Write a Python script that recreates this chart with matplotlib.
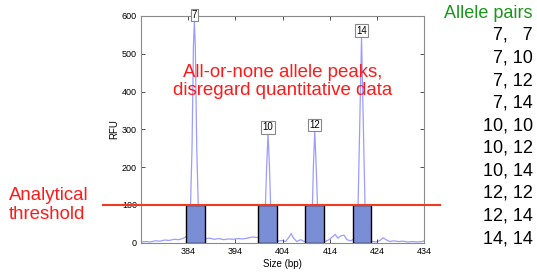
import matplotlib
matplotlib.use("Agg")
import matplotlib.pyplot as plt

plt.rcParams['font.family'] = ['Liberation Sans', 'DejaVu Sans']

# electropherogram trace (size in bp, RFU)
trace_bp = [374, 375, 376, 377, 378, 379, 380, 381, 382, 383, 383.8, 384.4, 384.8, 385.1, 385.3,
            385.5, 385.8, 386.2, 386.8, 387.5, 388.5, 389.5, 390.5, 391.5, 392.5, 393.5, 394.5,
            395.5, 396.5, 397.5, 398.5, 399.5, 400.2, 400.6, 400.9, 401.2, 401.6, 402.2, 403,
            403.8, 404.6, 405.3, 405.8, 406.3, 407, 407.8, 408.6, 409.6, 410.2, 410.5, 410.8,
            411.1, 411.5, 412.2, 413, 413.8, 414.5, 415.1, 415.7, 416.3, 417, 417.6, 418.4,
            419.2, 419.9, 420.3, 420.7, 421.1, 421.5, 422.2, 423, 423.8, 424.6, 425.3, 426,
            426.7, 427.5, 428.5, 429.5, 430.5, 431.5, 432.5, 433.5, 434]
trace_rfu = [2, 3, 2, 5, 4, 7, 6, 9, 8, 12, 18, 60, 250, 520, 585,
             520, 250, 60, 15, 10, 12, 9, 11, 8, 10, 9, 11,
             10, 12, 15, 14, 13, 40, 200, 288, 200, 40, 10, 4,
             6, 3, 14, 24, 12, 3, 8, 3, 10, 50, 200, 295,
             200, 50, 5, 3, 8, 15, 22, 12, 18, 20, 8, 5,
             10, 60, 300, 544, 300, 60, 10, 3, 2, 6, 13, 7,
             3, 5, 3, 4, 2, 3, 2, 3, 5]

peak_labels = ['7', '10', '12', '14']
peak_bp = [385.3, 400.9, 410.8, 420.7]
peak_rfu = [585, 288, 295, 544]

bin_centers = [385.6, 400.8, 410.8, 420.8]
bin_width = 4
threshold = 100

pairs = ['7,   7', '7, 10', '7, 12', '7, 14', '10, 10',
         '10, 12', '10, 14', '12, 12', '12, 14', '14, 14']

fig = plt.figure(figsize=(5.37, 2.73), dpi=100)
ax = fig.add_axes([0.2626, 0.111, 0.5276, 0.8304])

ax.plot(trace_bp, trace_rfu, color='#9c9cff', lw=0.9, zorder=1)
ax.bar(bin_centers, [threshold] * len(bin_centers), width=bin_width,
       color='#7a8ed6', edgecolor='black', linewidth=1.0, zorder=2)
ax.axhline(threshold, xmin=-0.134, xmax=1.055, color='#f03a22', lw=1.5,
           clip_on=False, zorder=3)

for lab, x, y in zip(peak_labels, peak_bp, peak_rfu):
    ax.text(x, y + 4, lab, ha='center', va='bottom', fontsize=7, zorder=5,
            bbox=dict(boxstyle='square,pad=0.12', fc='white', ec='#888888', lw=0.8))

ax.set_xlim(374, 434)
ax.set_ylim(0, 600)
ax.set_xticks([384, 394, 404, 414, 424, 434])
ax.set_yticks([0, 100, 200, 300, 400, 500, 600])
ax.tick_params(direction='in', length=3, width=0.6, labelsize=6.5, top=True, right=True,
               color='#333333', pad=3)
for s in ax.spines.values():
    s.set_color('#8a8a8a')
    s.set_linewidth(0.8)
ax.set_xlabel('Size (bp)', fontsize=7, labelpad=2)
ax.set_ylabel('RFU', fontsize=7, labelpad=2)

red = '#ff1a1a'
fig.text(283 / 537, 1 - 81.5 / 273, 'All-or-none allele peaks,\ndisregard quantitative data',
         ha='center', va='center', fontsize=13.4, color=red, linespacing=1.12)
fig.text(9 / 537, 1 - 205 / 273, 'Analytical\nthreshold', ha='left', va='center',
         fontsize=13.4, color=red, linespacing=1.12)

fig.text(533 / 537, 1 - 13 / 273, 'Allele pairs', ha='right', va='center',
         fontsize=13, color='#1a961a')
for i, p in enumerate(pairs):
    fig.text(533 / 537, 1 - (35.5 + i * 22.56) / 273, p, ha='right', va='center',
             fontsize=13, color='black')

fig.savefig('out.png', dpi=100)
